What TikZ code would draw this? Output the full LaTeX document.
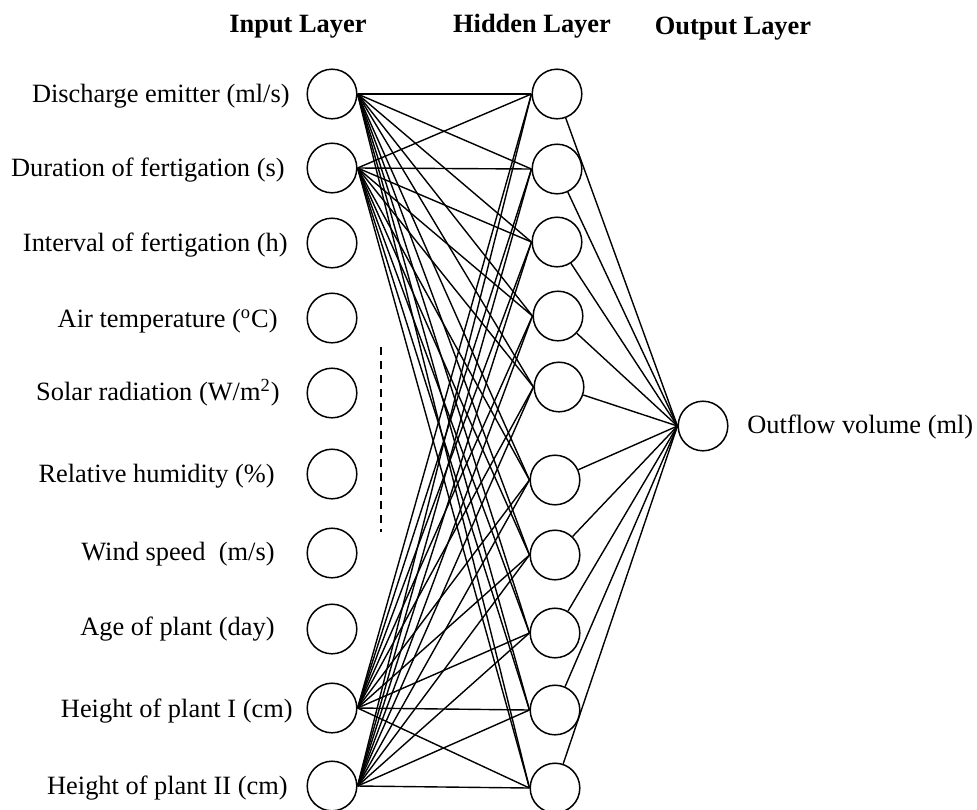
\documentclass[tikz,border=0pt]{standalone}
\usepackage{fontspec}
\setmainfont{Liberation Serif}
\begin{document}
\begin{tikzpicture}[x=0.5pt,y=-0.5pt,
  neuron/.style={circle,draw,line width=0.75pt,minimum size=24.8pt,inner sep=0pt},
  lbl/.style={anchor=base east,inner sep=0pt,font=\fontsize{13.2}{16}\selectfont},
  ttl/.style={anchor=base,inner sep=0pt,font=\fontsize{13.2}{16}\selectfont\bfseries},
  outlbl/.style={anchor=base west,inner sep=0pt,font=\fontsize{13.2}{16}\selectfont},
  conn/.style={line width=0.7pt},
  gapmark/.style={line width=0.7pt,dash pattern=on 4pt off 3pt}]
\useasboundingbox (0,0) rectangle (977,809);

% titles
\node[ttl] (tin)  at (298,32) {Input Layer};
\node[ttl] (thid) at (532,32) {Hidden Layer};
\node[ttl] (tout) at (733,34) {Output Layer};

% input neurons
\node[neuron] (i1)  at (332,94)  {};
\node[neuron] (i2)  at (332,168) {};
\node[neuron] (i3)  at (332,243) {};
\node[neuron] (i4)  at (332,318) {};
\node[neuron] (i5)  at (332,393) {};
\node[neuron] (i6)  at (332,474) {};
\node[neuron] (i7)  at (332,553) {};
\node[neuron] (i8)  at (332,629) {};
\node[neuron] (i9)  at (332,708) {};
\node[neuron] (i10) at (332,786) {};

% input labels
\node[lbl] (l1)  at (290,102) {Discharge emitter (ml/s)};
\node[lbl] (l2)  at (285,176) {Duration of fertigation (s)};
\node[lbl] (l3)  at (288,251) {Interval of fertigation (h)};
\node[lbl] (l4)  at (278,327) {Air temperature (\textsuperscript{o}C)};
\node[lbl] (l5)  at (280,400) {Solar radiation (W/m\textsuperscript{2})};
\node[lbl] (l6)  at (275,482) {Relative humidity (\%)};
\node[lbl] (l7)  at (275,560) {Wind speed\ \ (m/s)};
\node[lbl] (l8)  at (275,635) {Age of plant (day)};
\node[lbl] (l9)  at (293,717) {Height of plant I (cm)};
\node[lbl] (l10) at (288,794) {Height of plant II (cm)};

% hidden neurons
\node[neuron] (h1)  at (557,94)  {};
\node[neuron] (h2)  at (557,169) {};
\node[neuron] (h3)  at (557,242) {};
\node[neuron] (h4)  at (558,316) {};
\node[neuron] (h5)  at (559,387) {};
\node[neuron] (h6)  at (555,480) {};
\node[neuron] (h7)  at (555,555) {};
\node[neuron] (h8)  at (555,633) {};
\node[neuron] (h9)  at (555,710) {};
\node[neuron] (h10) at (555,788) {};

% output neuron
\node[neuron] (o) at (703,426) {};
\node[outlbl] (ol) at (747,433) {Outflow volume (ml)};

% dashed continuation mark
\coordinate (d1) at (381,347);
\coordinate (d2) at (381,532);
\draw[gapmark] (d1) -- (d2);

% input -> hidden
\foreach \i in {1,2,9,10}{
  \foreach \j in {1,...,10}{
    \draw[conn] (i\i.east) -- (h\j.west);
  }
}
% hidden -> output
\foreach \j in {1,...,10}{
  \draw[conn] (h\j) -- (o.west);
}
\end{tikzpicture}
\end{document}
